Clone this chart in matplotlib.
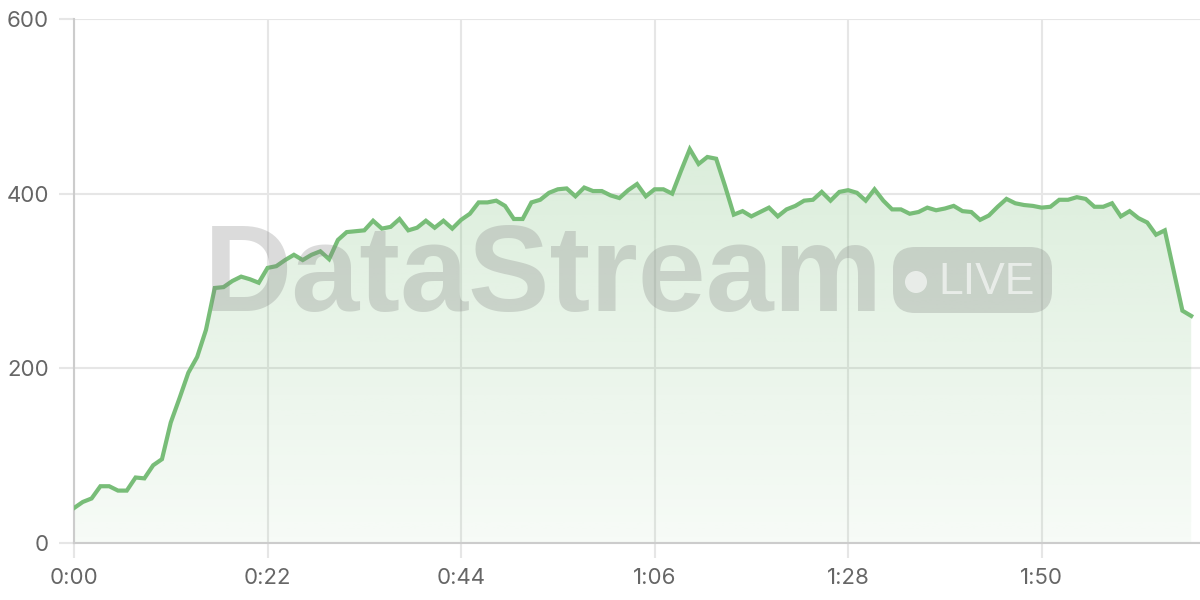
import numpy as np
import matplotlib
matplotlib.use('Agg')
import matplotlib.pyplot as plt
from matplotlib.patches import FancyBboxPatch, Circle

# one sample per second
secs = list(range(128))
vals = [40, 47, 51, 65, 65, 60, 60, 75, 74, 89,
        96, 138, 166, 195, 213, 244, 292, 293, 300, 305,
        302, 298, 315, 317, 324, 330, 324, 330, 334, 325,
        347, 356, 357, 358, 369, 360, 362, 371, 358, 361,
        369, 361, 369, 360, 370, 377, 390, 390, 392, 386,
        371, 371, 390, 393, 401, 405, 406, 397, 407, 403,
        403, 398, 395, 404, 411, 397, 405, 405, 400, 426,
        451, 434, 442, 440, 409, 376, 380, 374, 379, 384,
        374, 382, 386, 392, 393, 402, 392, 402, 404, 401,
        392, 405, 392, 382, 382, 377, 379, 384, 381, 383,
        386, 380, 379, 370, 375, 385, 394, 389, 387, 386,
        384, 385, 393, 393, 396, 394, 385, 385, 389, 374,
        380, 372, 367, 353, 358, 312, 266, 260]
xticks = [0, 22, 44, 66, 88, 110]
yticks = [0, 200, 400, 600]

green = '#78bd78'
gridc = '#e6e6e6'
textc = '#666666'

plt.rcParams['font.family'] = ['Inter', 'DejaVu Sans']

fig = plt.figure(figsize=(12, 6), dpi=100)
ax = fig.add_axes([74/1200., 57/600., 1126/1200., 524/600.])

x = np.array(secs, float)
y = np.array(vals, float)

# gradient fill under the line
poly = ax.fill_between(x, 0, y, color='none', lw=0)
grad = np.zeros((256, 2, 4))
rgb = matplotlib.colors.to_rgb(green)
grad[:, :, 0] = rgb[0]; grad[:, :, 1] = rgb[1]; grad[:, :, 2] = rgb[2]
grad[:, :, 3] = np.linspace(0.27, 0.06, 256)[:, None]
im = ax.imshow(grad, aspect='auto', extent=[0, x.max(), 0, 460], origin='upper', zorder=1)
im.set_clip_path(poly.get_paths()[0], transform=ax.transData)

ax.plot(x, y, color=green, lw=3, zorder=3, solid_joinstyle='miter')

ax.set_xlim(0, 128)
ax.set_ylim(0, 600)
ax.set_xticks(xticks)
ax.set_xticklabels(['%d:%02d' % (s // 60, s % 60) for s in xticks])
ax.set_yticks(yticks)
ax.grid(True, color=gridc, lw=1.5, zorder=0)
ax.set_axisbelow(True)
for s in ['top', 'right']:
    ax.spines[s].set_visible(False)
for s in ['left', 'bottom']:
    ax.spines[s].set_color('#cccccc')
    ax.spines[s].set_linewidth(1.5)
ax.tick_params(length=11, width=1.5, color=gridc, labelcolor=textc, labelsize=16, pad=7)

# watermark
fig.text(204/1200., 1 - 311/600., 'DataStream', fontsize=88, fontweight='bold',
         family='Liberation Sans', color='#808080', alpha=0.28, ha='left', va='baseline', zorder=10)
box = FancyBboxPatch((8.93, 2.87), 1.59, 0.66, boxstyle='round,pad=0,rounding_size=0.22',
                     transform=fig.dpi_scale_trans, fc='#808080', ec='none', alpha=0.28, zorder=10)
fig.patches.append(box)
dot = Circle((9.16, 3.18), 0.11, transform=fig.dpi_scale_trans, fc='white', ec='none', alpha=0.6, zorder=11)
fig.patches.append(dot)
fig.text(938/1200., 1 - 294/600., 'LIVE', fontsize=32, family='Liberation Sans',
         color='white', alpha=0.6, ha='left', va='baseline', zorder=11)

fig.savefig('out.png', dpi=100)
